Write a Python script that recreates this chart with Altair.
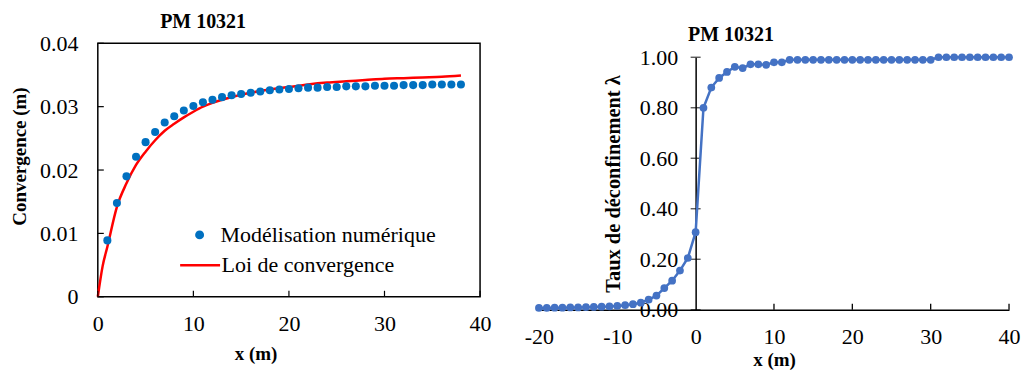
import altair as alt
import pandas as pd

FONT = "Liberation Serif"

# ---------------- data: left panel ----------------
conv_x = list(range(1, 39))
conv_num = [0.0089, 0.0148, 0.0190, 0.0221, 0.0244, 0.0260, 0.0275, 0.0285, 0.0294, 0.0301,
            0.0307, 0.0311, 0.0315, 0.0318, 0.0320, 0.0322, 0.0324, 0.0326, 0.0327, 0.0328,
            0.0329, 0.0330, 0.0330, 0.0331, 0.0331, 0.0332, 0.0332, 0.0332, 0.0333, 0.0333,
            0.0333, 0.0334, 0.0334, 0.0334, 0.0335, 0.0335, 0.0335, 0.0335]
law_x = [0, 0.5, 1, 2, 3, 4, 5, 6, 7, 8, 9, 10, 11, 12, 13, 14, 15, 16, 18, 20, 22, 24, 26,
         28, 30, 32, 34, 36, 38]
law_c = [0, 0.0048, 0.0079, 0.0142, 0.0179, 0.0208, 0.0229, 0.0247, 0.0262, 0.0273, 0.0283,
         0.0292, 0.0300, 0.0306, 0.0311, 0.0315, 0.0319, 0.0322, 0.0327, 0.0331, 0.0335,
         0.0338, 0.0340, 0.0342, 0.0344, 0.0345, 0.0346, 0.0347, 0.0349]
left_xticks = [0, 10, 20, 30, 40]
left_yticks = [0, 0.01, 0.02, 0.03, 0.04]
name_num = "Modélisation numérique"
name_law = "Loi de convergence"

# ---------------- data: right panel ----------------
lam_x = list(range(-20, 41))
lam_v = [0.007, 0.007, 0.008, 0.008, 0.009, 0.009, 0.010, 0.011, 0.012, 0.013,
         0.015, 0.018, 0.022, 0.028, 0.040, 0.056, 0.086, 0.115, 0.155, 0.205,
         0.307, 0.800, 0.880, 0.918, 0.942, 0.962, 0.957, 0.972, 0.972, 0.970,
         0.980, 0.980] + [0.990] * 19 + [1.000] * 10
right_xticks = [-20, -10, 0, 10, 20, 30, 40]
right_yticks = [0, 0.2, 0.4, 0.6, 0.8, 1.0]
right_inticks = [10, 20, 30, 40]

BLUE_L = "#0070C0"
RED = "#FF0000"
BLUE_R = "#4472C4"

LW, LH = 383, 254
RW, RH = 471, 253
RTOP = 14          # the right panel sits lower than the left one
TICK_FS = 22

# ---------------- left chart ----------------
pts = pd.DataFrame({"x": conv_x, "c": conv_num, "s": name_num})
law = pd.DataFrame({"x": law_x, "c": law_c, "s": name_law})
lxt = pd.DataFrame({"x": left_xticks})
lyt = pd.DataFrame({"c": left_yticks})

xs = alt.Scale(domain=[0, 40], nice=False)
ys = alt.Scale(domain=[0, 0.04], nice=False)

x_axis = alt.Axis(values=left_xticks, title="x (m)", grid=False, domain=False, ticks=False,
                  labelFlush=False,
                  labelFont=FONT, labelFontSize=TICK_FS, labelColor="black", labelPadding=17,
                  titleFont=FONT, titleFontSize=19, titleFontWeight="bold", titleColor="black",
                  titleX=158, titlePadding=10)
y_axis = alt.Axis(values=left_yticks, title="Convergence (m)", grid=False, domain=False, ticks=False,
                  labelExpr="datum.value == 0 ? '0' : format(datum.value, '.2f')",
                  labelFont=FONT, labelFontSize=TICK_FS, labelColor="black", labelPadding=20,
                  titleFont=FONT, titleFontSize=19, titleFontWeight="bold", titleColor="black",
                  titleY=113, titlePadding=10)

X = alt.X("x:Q", scale=xs, axis=x_axis)
Y = alt.Y("c:Q", scale=ys, axis=y_axis)

law_line = alt.Chart(law).mark_line(strokeWidth=2.5, interpolate="monotone").encode(
    x=X, y=Y,
    color=alt.Color("s:N", scale=alt.Scale(domain=[name_law], range=[RED]),
                    legend=alt.Legend(title=None, orient="none", legendX=81, legendY=201,
                                      symbolType="stroke", symbolSize=1600, symbolStrokeWidth=2.5,
                                      labelFont=FONT, labelFontSize=22, labelColor="black",
                                      labelLimit=0, labelOffset=0, padding=0)),
)
num_pts = alt.Chart(pts).mark_circle(size=65, opacity=1).encode(
    x=X, y=Y,
    color=alt.Color("s:N", scale=alt.Scale(domain=[name_num], range=[BLUE_L]),
                    legend=alt.Legend(title=None, orient="none", legendX=91, legendY=181,
                                      symbolType="circle", symbolSize=80, symbolOpacity=1,
                                      labelFont=FONT, labelFontSize=22, labelColor="black",
                                      labelLimit=0, labelOffset=10, padding=0)),
)
ytick_l = alt.Chart(lyt).mark_rule(color="black", strokeWidth=1.2).encode(
    y=Y, x=alt.value(0), x2=alt.value(6))
xtick_l = alt.Chart(lxt).mark_rule(color="black", strokeWidth=1.2).encode(
    x=X, y=alt.value(LH), y2=alt.value(LH - 6))

left = alt.layer(law_line, num_pts, ytick_l, xtick_l).resolve_scale(color="independent").properties(
    width=LW, height=LH,
    title=alt.TitleParams("PM 10321", font=FONT, fontSize=20, fontWeight="bold", color="black",
                          anchor="middle", dx=-86, offset=0),
    view=alt.ViewBackground(stroke="black", strokeWidth=1.5),
)

# ---------------- right chart ----------------
lam = pd.DataFrame({"x": lam_x, "v": lam_v})
ryt = pd.DataFrame({"v": right_yticks, "x": [0] * len(right_yticks)})
rxt = pd.DataFrame({"x": right_inticks})

xs2 = alt.Scale(domain=[-20, 40], nice=False)
ys2 = alt.Scale(domain=[0, 1], nice=False, range=[RH + RTOP, RTOP])

x_axis2 = alt.Axis(values=right_xticks, title="x (m)", grid=False, domain=True, domainColor="black",
                   domainWidth=1.5, ticks=False, labelExpr="toString(datum.value)", labelFlush=False,
                   labelFont=FONT, labelFontSize=TICK_FS, labelColor="black",
                   labelPadding=17, titleFont=FONT, titleFontSize=19, titleFontWeight="bold",
                   titleColor="black", titlePadding=3)
y_axis2 = alt.Axis(values=right_yticks, title="Taux de déconfinement λ", grid=False, domain=True,
                   domainColor="black", domainWidth=1.5, ticks=False, format=".2f",
                   offset=-RW * 20 / 60, labelFont=FONT, labelFontSize=TICK_FS, labelColor="black",
                   labelPadding=18, titleFont=FONT, titleFontSize=20.5, titleFontWeight="bold",
                   titleColor="black", titlePadding=16)

X2 = alt.X("x:Q", scale=xs2, axis=x_axis2)
Y2 = alt.Y("v:Q", scale=ys2, axis=y_axis2)

ytick_r = alt.Chart(ryt).mark_tick(orient="horizontal", size=10, thickness=1.3, color="black").encode(
    x=X2, y=Y2)
xtick_r = alt.Chart(rxt).mark_rule(color="black", strokeWidth=1.3).encode(
    x=X2, y=alt.value(RH + RTOP), y2=alt.value(RH + RTOP - 6))
lam_line = alt.Chart(lam).mark_line(
    color=BLUE_R, strokeWidth=2.5,
    point=alt.OverlayMarkDef(filled=True, size=60, color=BLUE_R, opacity=1),
).encode(x=X2, y=Y2)

right = alt.layer(ytick_r, xtick_r, lam_line).properties(
    width=RW, height=RH + RTOP,
    title=alt.TitleParams("PM 10321", font=FONT, fontSize=20, fontWeight="bold", color="black",
                          anchor="middle", dx=-43, offset=-2),
    view=alt.ViewBackground(stroke="transparent"),
)

chart = alt.hconcat(left, right, spacing=59, bounds="flush").configure(font=FONT).properties(
    padding={"left": 9, "top": 11, "right": 0, "bottom": 0},
    background="white",
)

chart.save("out.html", embed_options={"renderer": "svg", "actions": False})
